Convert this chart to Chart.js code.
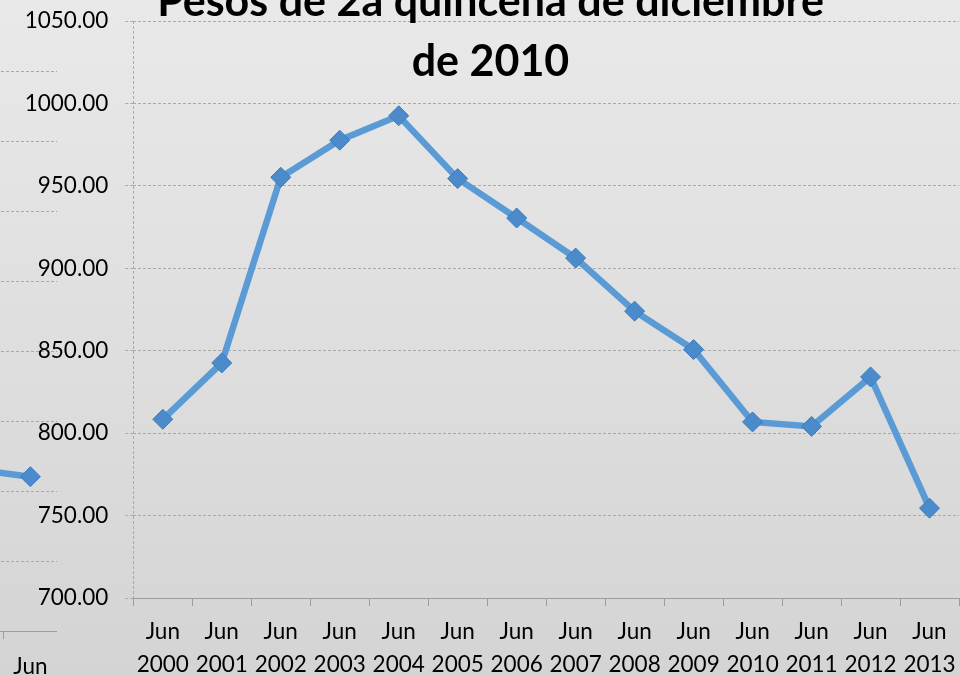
<!DOCTYPE html>
<html><head><meta charset="utf-8">
<script src="https://cdn.jsdelivr.net/npm/chart.js@4"></script>
<style>
html,body{margin:0;padding:0;width:960px;height:676px;overflow:hidden;background:linear-gradient(to bottom,#e9e9e9 0%,#d4d4d4 100%);}
#prev{position:absolute;left:-209px;top:0;width:266px;height:694px;z-index:1}
#main{position:absolute;left:0;top:-60px;width:960px;height:750px;z-index:2}
</style></head><body>
<div id="prev"><canvas id="c2"></canvas></div>
<div id="main"><canvas id="c1"></canvas></div>
<script>
// ---- data: main chart ----
const months = ['Jun','Jun','Jun','Jun','Jun','Jun','Jun','Jun','Jun','Jun','Jun','Jun','Jun','Jun'];
const years = ['2000','2001','2002','2003','2004','2005','2006','2007','2008','2009','2010','2011','2012','2013'];
const pesos = [808.4, 842.6, 955.2, 977.7, 992.5, 954.4, 930.5, 906.2, 874.0, 850.7, 806.8, 804.1, 834.1, 754.5];
const yMin = 700, yMax = 1050, yStep = 50;
const titleLines = ['Pesos de 2a quincena de diciembre', 'de 2010'];
// ---- data: neighbouring chart, only its right edge is visible ----
const prevMonths = ['Jun','Jun','Jun','Jun','Jun'];
const prevValues = [null, null, null, 715.2, 710.2];
const prevMin = 600, prevMax = 1000, prevStep = 50;

const FONT = 'Lato';
const lineBlue = '#5b9bd5';
const gridGray = '#a9a9a9';
const axisGray = '#9c9c9c';

function makeMain() {
  const labels = months.map((m, i) => [m, years[i]]);
  new Chart(document.getElementById('c1'), {
    type: 'line',
    data: { labels, datasets: [{
      data: pesos,
      borderColor: lineBlue, borderWidth: 6.5, tension: 0,
      pointStyle: 'rectRot', pointRadius: 10, pointHoverRadius: 10,
      pointBackgroundColor: '#4b8bcc', pointBorderColor: '#3b7bbd', pointBorderWidth: 1,
      clip: false
    }]},
    options: {
      responsive: true, maintainAspectRatio: false, animation: false,
      layout: { autoPadding: false, padding: { left: 22, right: 1, top: 0, bottom: 0 } },
      plugins: {
        legend: { display: false }, tooltip: { enabled: false },
        title: { display: true, text: titleLines, color: '#000',
          font: { family: FONT, size: 43, weight: 'bold', lineHeight: 60/43 },
          padding: { top: 32, bottom: -71 } }
      },
      scales: {
        x: { offset: true,
          afterFit: s => { s.paddingLeft = 0; s.paddingRight = 0; },
          grid: { display: true, drawOnChartArea: true, offset: true, tickLength: 8,
            color: c => c.index === 0 ? gridGray : 'rgba(0,0,0,0)',
            tickColor: axisGray, tickBorderDash: [] },
          border: { display: true, color: axisGray, width: 1, dash: [3,2] },
          ticks: { color: '#000', padding: 9, maxRotation: 0, autoSkip: false,
            font: { family: FONT, size: 22.5, lineHeight: 33/22.5 } } },
        y: { min: yMin, max: yMax,
          afterFit: s => { s.width = 111.3; },
          grid: { color: gridGray, tickLength: 8, tickBorderDash: [3,2], tickColor: gridGray },
          border: { display: false, dash: [3,2] },
          ticks: { stepSize: yStep, color: '#000', padding: 17,
            font: { family: FONT, size: 22.5 },
            callback: v => Number(v).toFixed(2) } }
      }
    }
  });
}

function makePrev() {
  new Chart(document.getElementById('c2'), {
    type: 'line',
    data: { labels: prevMonths, datasets: [{
      data: prevValues,
      borderColor: lineBlue, borderWidth: 6.5, tension: 0,
      pointStyle: 'rectRot', pointRadius: 10,
      pointBackgroundColor: '#4b8bcc', pointBorderColor: '#3b7bbd', pointBorderWidth: 1,
      clip: false
    }]},
    options: {
      responsive: true, maintainAspectRatio: false, animation: false,
      layout: { autoPadding: false, padding: { left: 0, right: 0, top: 71, bottom: 0 } },
      plugins: { legend: { display: false }, tooltip: { enabled: false }, title: { display: false } },
      scales: {
        x: { offset: true,
          afterFit: s => { s.paddingLeft = 0; s.paddingRight = 0; },
          grid: { display: true, drawOnChartArea: false, offset: true, tickLength: 8, color: axisGray },
          border: { display: true, color: axisGray },
          ticks: { color: '#000', padding: 11, maxRotation: 0, autoSkip: false,
            font: { family: FONT, size: 22.5, lineHeight: 33/22.5 } } },
        y: { min: prevMin, max: prevMax,
          grid: { color: gridGray, drawTicks: false },
          border: { display: false, dash: [3,2] },
          ticks: { display: false, stepSize: prevStep } }
      }
    }
  });
}

Promise.all([
  document.fonts.load('22px Lato'),
  document.fonts.load('bold 43px Lato')
]).catch(() => {}).then(() => { makePrev(); makeMain(); });
</script>
</body></html>
